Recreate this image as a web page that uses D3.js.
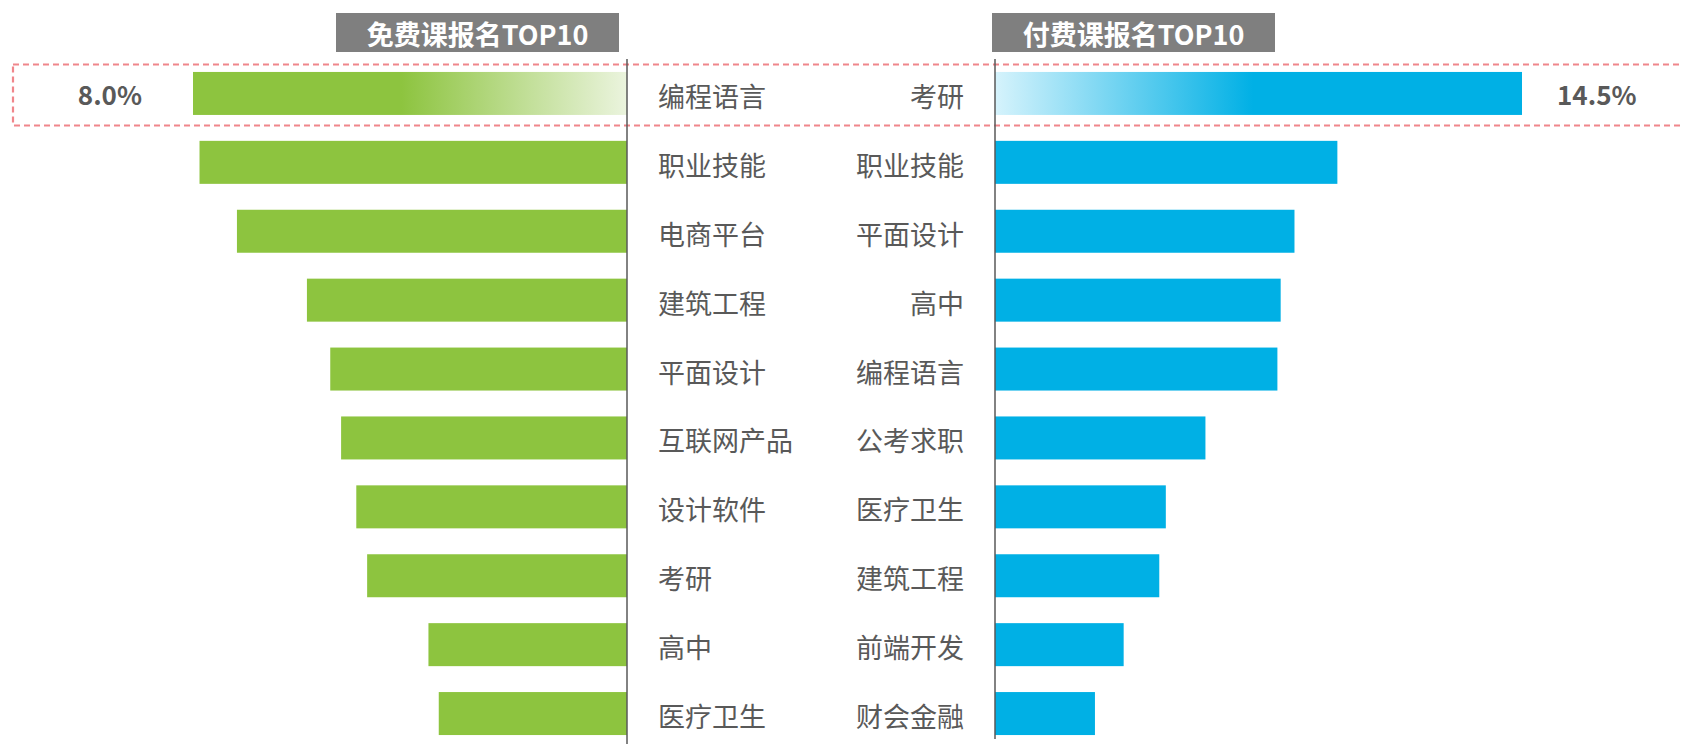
<!DOCTYPE html>
<meta charset="utf-8">
<script src="https://d3js.org/d3.v7.min.js"></script>
<style>
  body { margin: 0; background: #fff; }
  text { font-family: "Noto Sans CJK SC", "Noto Sans", sans-serif; }
</style>
<body>
<div id="chart"></div>
<script>
  // free courses (left side), top to bottom
  var freeCats = ["编程语言", "职业技能", "电商平台", "建筑工程", "平面设计", "互联网产品", "设计软件", "考研", "高中", "医疗卫生"];
  var freeVals = [8.0, 7.88, 7.19, 5.90, 5.47, 5.27, 4.99, 4.79, 3.66, 3.47];
  // paid courses (right side)
  var paidCats = ["考研", "职业技能", "平面设计", "高中", "编程语言", "公考求职", "医疗卫生", "建筑工程", "前端开发", "财会金融"];
  var paidVals = [14.5, 9.42, 8.24, 7.86, 7.77, 5.79, 4.70, 4.52, 3.54, 2.75];
  var titles = ["免费课报名TOP10", "付费课报名TOP10"];

  var W = 1683, H = 744;
  var axisL = 627, axisR = 995;
  var green = "#8dc43f", blue = "#00b0e5", grey = "#595959";

  var svg = d3.select("#chart").append("svg")
    .attr("width", W).attr("height", H);

  var defs = svg.append("defs");
  var gg = defs.append("linearGradient").attr("id", "gGreen");
  gg.append("stop").attr("offset", "0%").attr("stop-color", green);
  gg.append("stop").attr("offset", "48%").attr("stop-color", green);
  gg.append("stop").attr("offset", "100%").attr("stop-color", "#ebf4de");
  var gb = defs.append("linearGradient").attr("id", "gBlue");
  gb.append("stop").attr("offset", "0%").attr("stop-color", "#d6f3fc");
  gb.append("stop").attr("offset", "49%").attr("stop-color", blue);
  gb.append("stop").attr("offset", "100%").attr("stop-color", blue);

  var y = d3.scaleBand()
    .domain(d3.range(10))
    .range([59, 748])
    .paddingInner(0.376)
    .paddingOuter(0.188);

  var xL = d3.scaleLinear().domain([0, 8]).range([0, 434]);
  var xR = d3.scaleLinear().domain([0, 14.5]).range([0, 527]);

  // highlight box around first row
  svg.append("rect")
    .attr("x", 13).attr("y", 64.5)
    .attr("width", W + 20).attr("height", 61)
    .attr("fill", "none")
    .attr("stroke", "#f0868b")
    .attr("stroke-width", 2.2)
    .attr("stroke-dasharray", "6,4");

  // left bars
  svg.selectAll(".fbar")
    .data(freeVals)
    .enter().append("rect")
    .attr("class", "fbar")
    .attr("x", function (d) { return axisL - xL(d); })
    .attr("y", function (d, i) { return y(i); })
    .attr("width", function (d) { return xL(d); })
    .attr("height", y.bandwidth())
    .attr("fill", function (d, i) { return i == 0 ? "url(#gGreen)" : green; });

  // right bars
  svg.selectAll(".pbar")
    .data(paidVals)
    .enter().append("rect")
    .attr("class", "pbar")
    .attr("x", axisR)
    .attr("y", function (d, i) { return y(i); })
    .attr("width", function (d) { return xR(d); })
    .attr("height", y.bandwidth())
    .attr("fill", function (d, i) { return i == 0 ? "url(#gBlue)" : blue; });

  // category labels
  svg.selectAll(".flab")
    .data(freeCats)
    .enter().append("text")
    .attr("x", axisL + 31)
    .attr("y", function (d, i) { return y(i) + y.bandwidth() / 2 + 2; })
    .attr("dominant-baseline", "central")
    .attr("font-size", 27)
    .attr("fill", grey)
    .text(function (d) { return d; });

  svg.selectAll(".plab")
    .data(paidCats)
    .enter().append("text")
    .attr("x", axisR - 31)
    .attr("y", function (d, i) { return y(i) + y.bandwidth() / 2 + 2; })
    .attr("dominant-baseline", "central")
    .attr("text-anchor", "end")
    .attr("font-size", 27)
    .attr("fill", grey)
    .text(function (d) { return d; });

  // value labels for the top row
  svg.append("text")
    .attr("x", axisL - xL(freeVals[0]) - 51)
    .attr("y", y(0) + y.bandwidth() / 2)
    .attr("dominant-baseline", "central")
    .attr("text-anchor", "end")
    .attr("font-size", 26).attr("font-weight", "bold")
    .attr("fill", grey)
    .text(freeVals[0].toFixed(1) + "%");

  svg.append("text")
    .attr("x", axisR + xR(paidVals[0]) + 35)
    .attr("y", y(0) + y.bandwidth() / 2)
    .attr("dominant-baseline", "central")
    .attr("font-size", 26).attr("font-weight", "bold")
    .attr("fill", grey)
    .text(paidVals[0].toFixed(1) + "%");

  // axis lines
  svg.append("line")
    .attr("x1", axisL).attr("x2", axisL)
    .attr("y1", 59).attr("y2", H)
    .attr("stroke", grey).attr("stroke-width", 1.5);
  svg.append("line")
    .attr("x1", axisR).attr("x2", axisR)
    .attr("y1", 59).attr("y2", 739)
    .attr("stroke", grey).attr("stroke-width", 1.5);

  // title boxes
  var tx = [336, 992];
  titles.forEach(function (t, i) {
    svg.append("rect")
      .attr("x", tx[i]).attr("y", 13)
      .attr("width", 283).attr("height", 39)
      .attr("fill", "#7f7f7f");
    svg.append("text")
      .attr("x", tx[i] + 141.5).attr("y", 33)
      .attr("dominant-baseline", "central")
      .attr("text-anchor", "middle")
      .attr("font-size", 27).attr("font-weight", "bold")
      .attr("fill", "#fff")
      .text(t);
  });
</script>
</body>
